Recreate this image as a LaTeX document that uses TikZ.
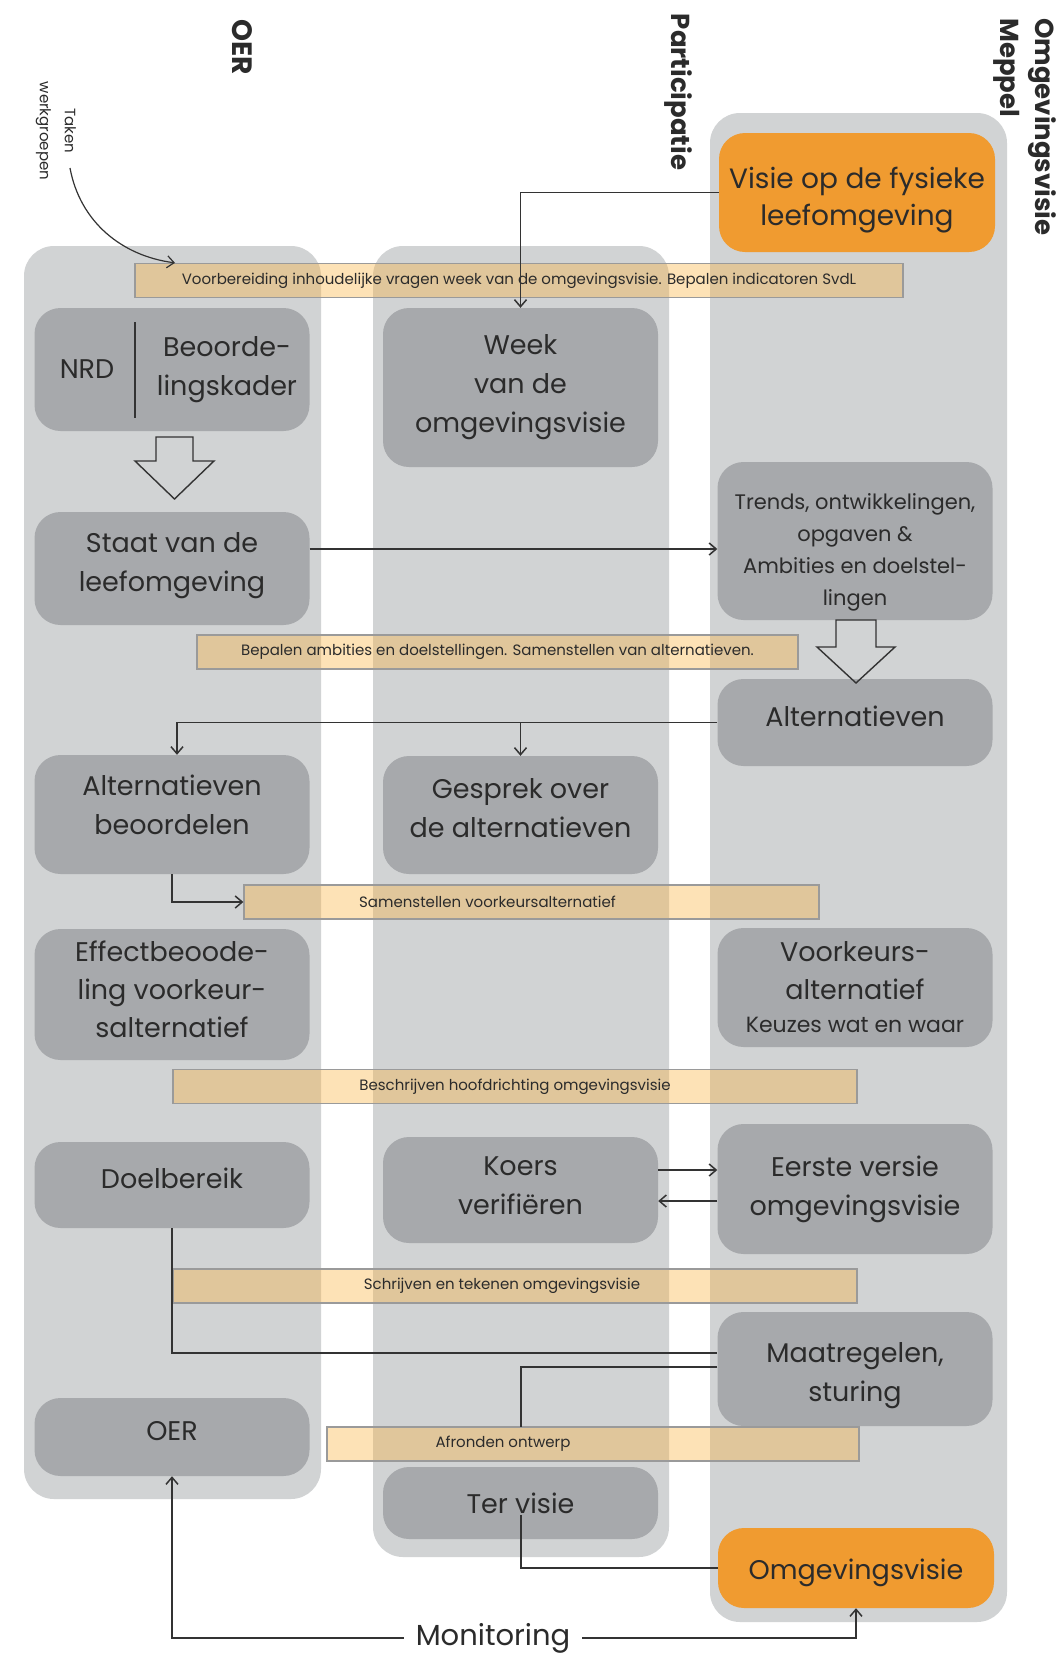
\documentclass[tikz,border=0pt]{standalone}
\usepackage{fontspec}
\setmainfont{Poppins}
\usetikzlibrary{arrows.meta,calc}
\definecolor{colbg}{HTML}{D1D3D4}
\definecolor{boxgray}{HTML}{A7A9AC}
\definecolor{orng}{HTML}{F09B30}
\definecolor{ink}{HTML}{2B2B2B}
\definecolor{barfill}{HTML}{FCB13A}
\definecolor{barline}{HTML}{9A9A9A}
\definecolor{wirec}{HTML}{333333}
% shift the lines of a node down (positive) or up (negative) without changing the box
\newcommand{\shiftdn}[2]{\raisebox{-#1}[\height][\depth]{\begin{tabular}{@{}c@{}}#2\end{tabular}}}
\begin{document}
\begin{tikzpicture}[x=1pt,y=-1pt,
 column/.style={fill=colbg, rounded corners=30pt},
 box/.style={fill=boxgray, rounded corners=26pt, minimum width=275pt, text=ink, align=center, inner sep=0pt, font=\fontsize{27}{39}\selectfont},
 obox/.style={box, fill=orng},
 bar/.style={draw=barline, line width=1.3pt, fill=barfill, fill opacity=.37, text opacity=1, text=ink, minimum height=34pt, inner sep=0pt, font=\fontsize{15}{18}\selectfont},
 wire/.style={draw=wirec, line width=1.5pt},
 arr/.style={wire, -{Straight Barb[length=7pt,width=12pt]}},
 hdr/.style={rotate=-90, font=\bfseries\fontsize{26}{35}\selectfont, text=ink, inner sep=0pt},
 hollow/.style={draw=wirec, line width=1.4pt, line join=miter}
]
\useasboundingbox (0,0) rectangle (1063,1655);
\fill[white] (0,0) rectangle (1063,1655);

% columns
\path[column] (24,246) rectangle (321,1499);
\path[column] (373,246) rectangle (669,1557);
\path[column] (710,113) rectangle (1007,1622);

% headers
\node[hdr, font=\bfseries\fontsize{28}{35}\selectfont] (hoer) at (242,47) {OER};
\node[hdr] (hpart) at (678,92) {Participatie};
\node[hdr, align=left, anchor=north west] (homg) at (1057,18) {Omgevingsvisie\\Meppel};
\node[rotate=-90, align=center, font=\fontsize{15}{25}\selectfont, text=ink, inner sep=0pt] (taken) at (56,131) {Taken\\werkgroepen};

% left column
\node[box, minimum height=123pt] (nrd) at (172,369.5) {};
\node[text=ink, inner sep=0pt, font=\fontsize{27}{39}\selectfont] (nrdlabel) at (87,369) {NRD};
\node[text=ink, inner sep=0pt, align=center, font=\fontsize{27}{39}\selectfont] (bklabel) at (227,370) {Beoorde-\\lingskader};
\draw[wire] (135,322) -- (135,418);
\node[box, minimum height=113pt] (staat) at (172,568.5) {\shiftdn{-4pt}{Staat van de\\leefomgeving}};
\node[box, minimum height=119pt] (altb) at (172,814.5) {\shiftdn{-7pt}{Alternatieven\\beoordelen}};
\node[box, minimum height=131pt, font=\fontsize{27}{38}\selectfont] (effect) at (172,994.5) {\shiftdn{-3pt}{Effectbeoode-\\ling voorkeur-\\salternatief}};
\node[box, minimum height=86pt] (doel) at (172,1185) {\shiftdn{-4pt}{Doelbereik}};
\node[box, minimum height=78pt] (oer) at (172,1437) {\shiftdn{-4pt}{OER}};

% middle column
\node[box, minimum height=159pt] (week) at (520.5,387.5) {Week\\van de\\omgevingsvisie};
\node[box, minimum height=118pt] (gesprek) at (520.5,815) {\shiftdn{-5pt}{Gesprek over\\de alternatieven}};
\node[box, minimum height=106pt] (koers) at (520.5,1190) {\shiftdn{-3pt}{Koers\\verifiëren}};
\node[box, minimum height=72pt] (tervisie) at (520.5,1503) {Ter visie};

% right column
\node[obox, minimum width=276pt, minimum height=119pt, font=\fontsize{28}{37}\selectfont] (visie) at (857,192.5) {\shiftdn{7pt}{Visie op de fysieke\\leefomgeving}};
\node[box, minimum height=158pt, font=\fontsize{21}{32}\selectfont] (trends) at (855,541) {\shiftdn{10pt}{Trends, ontwikkelingen,\\opgaven \&\\Ambities en doelstel-\\lingen}};
\node[box, minimum height=87pt] (alt) at (855,722.5) {\shiftdn{-4pt}{Alternatieven}};
\node[box, minimum height=119pt, font=\fontsize{27}{38}\selectfont] (voork) at (855,987.5) {Voorkeurs-\\alternatief\\[-5pt]{\fontsize{22}{33}\selectfont Keuzes wat en waar}};
\node[box, minimum height=130pt] (eerste) at (855,1189) {Eerste versie\\omgevingsvisie};
\node[box, minimum height=114pt] (maat) at (855,1369) {\shiftdn{5pt}{Maatregelen,\\sturing}};
\node[obox, minimum width=276pt, minimum height=80pt] (omg) at (856,1568) {\shiftdn{4pt}{Omgevingsvisie}};

% hollow block arrows
\draw[hollow] (156,437) -- (193,437) -- (193,461) -- (214,461) -- (174.5,499) -- (135,461) -- (156,461) -- cycle;
\draw[hollow] (836,620) -- (876,620) -- (876,647) -- (895,647) -- (856,683) -- (817,647) -- (836,647) -- cycle;

% bars
\node[bar, minimum width=768pt] (bar1) at (519,280.5) {Voorbereiding inhoudelijke vragen week van de omgevingsvisie. Bepalen indicatoren SvdL};
\node[bar, minimum width=601pt] (bar2) at (497.5,652) {Bepalen ambities en doelstellingen. Samenstellen van alternatieven.};
\node[bar, minimum width=575pt] (bar3) at (531.5,902) {Samenstellen voorkeursalternatief\hspace*{88pt}};
\node[bar, minimum width=684pt] (bar4) at (515,1086.5) {Beschrijven hoofdrichting omgevingsvisie};
\node[bar, minimum width=684pt] (bar5) at (515,1286) {Schrijven en tekenen omgevingsvisie\hspace*{26pt}};
\node[bar, minimum width=532pt] (bar6) at (593,1444) {Afronden ontwerp\hspace*{180pt}};

% connectors
\coordinate (tw) at (70,168);
\draw[arr, line width=1.2pt] (tw) .. controls (80,222) and (122,256) .. (bar1.north -| 175,0);
\draw[arr] (visie.west) -| (week.north);
\draw[arr] (staat.east |- 0,549) -- (trends.west |- 0,549);
\draw[arr] (alt.west) -| ([xshift=5pt]altb.north);
\draw[arr] (gesprek.north |- alt.west) -- (gesprek.north);
\draw[arr] (altb.south) |- (bar3.west);
\draw[arr] (koers.east |- 0,1170) -- (eerste.west |- 0,1170);
\draw[arr] (eerste.west |- 0,1201) -- (koers.east |- 0,1201);
\draw[wire] (doel.south) |- (maat.west |- 0,1353);
\coordinate (afr) at (521,1427);
\draw[wire] (maat.west |- 0,1367) -| (afr);
\coordinate (tv) at (521,1515);
\draw[wire] (tv) |- (omg.west);
\node[font=\fontsize{29}{34}\selectfont, text=ink, inner xsep=12pt, inner ysep=0pt] (mon) at (493,1638) {Monitoring};
\draw[arr] (mon.west) -| (oer.south);
\draw[arr] (mon.east) -| (omg.south);
\end{tikzpicture}
\end{document}
